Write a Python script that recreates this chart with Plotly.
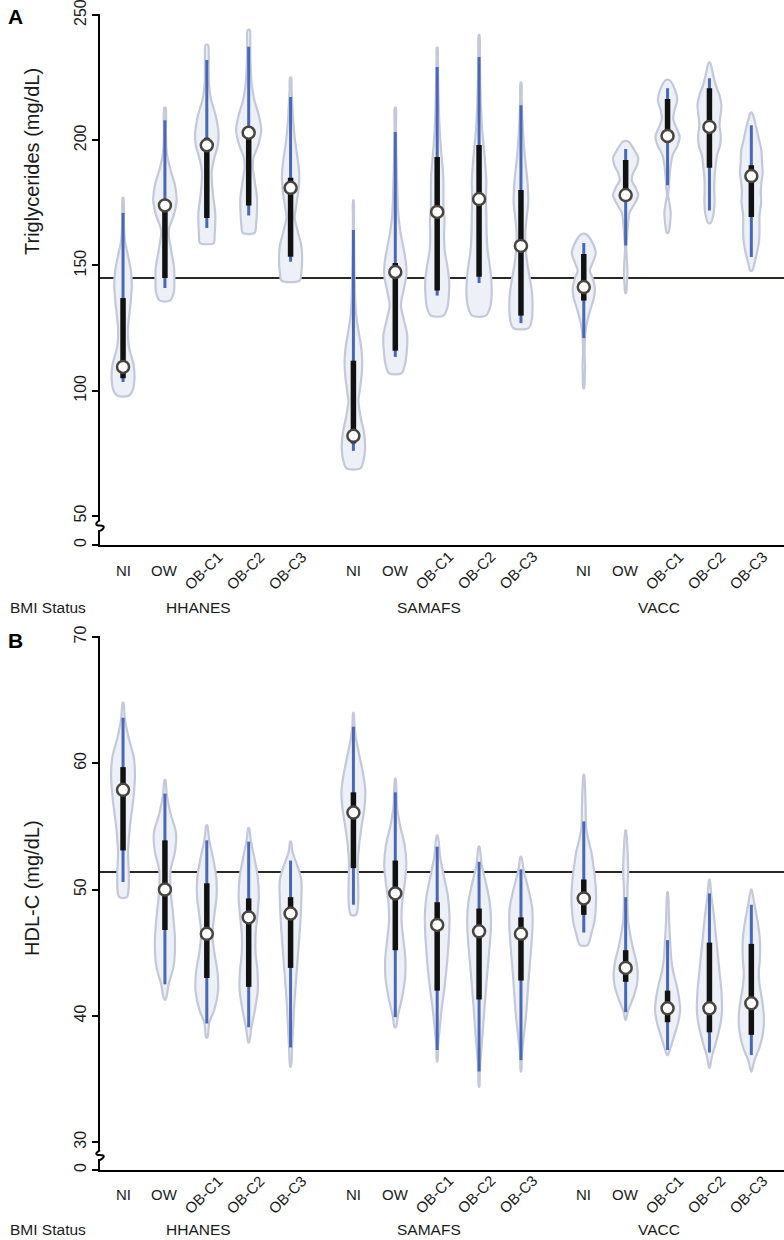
import plotly.graph_objects as go

# ---------------- data ----------------
groups = ["HHANES", "SAMAFS", "VACC"]
bmi_status = ["NI", "OW", "OB-C1", "OB-C2", "OB-C3"]

# Panel A: Triglycerides (mg/dL)
tg_whisk_lo = [103.5, 141, 165, 170, 151.5, 76, 113.5, 138, 143, 127, 121, 158, 182, 172, 153.4]
tg_q1 = [105, 145, 169, 174, 153.5, 79, 116, 140, 145.5, 130, 136, 176, 199, 189, 169.4]
tg_median = [109.5, 174, 198, 203, 181, 82, 147.4, 171.4, 176.5, 157.8, 141.4, 178.1, 201.7, 205.3, 185.7]
tg_q3 = [137, 176, 201, 205, 185, 112, 151, 193.3, 198.1, 180.1, 154.6, 192.1, 216.5, 220.8, 190]
tg_whisk_hi = [171, 208, 232, 237.3, 217.3, 164.2, 203.3, 229.2, 233.2, 214, 159, 196.5, 220.8, 224.8, 206]
tg_reference = 145

# violin density profiles (value levels, relative density)
tg_levels = [
    [98, 100, 104, 110, 118, 125, 135, 142, 148, 155, 160, 168, 177],
    [136, 139, 144, 149, 156, 164, 170, 176, 182, 188, 195, 203, 213],
    [159, 162, 167, 171, 178, 184, 188, 193, 198, 203, 210, 216, 222, 228, 234, 238],
    [163, 166, 171, 177, 183, 189, 193, 198, 204, 210, 216, 222, 230, 238, 244],
    [144, 147, 152, 158, 164, 169, 174, 181, 187, 193, 200, 207, 214, 220, 225],
    [69, 72, 77, 83, 89, 96, 100, 106, 112, 118, 124, 130, 140, 150, 160, 168, 176],
    [107, 110, 115, 122, 128, 134, 140, 146, 151, 157, 163, 170, 178, 188, 198, 206, 213],
    [130, 133, 138, 144, 150, 156, 162, 168, 174, 180, 186, 192, 198, 206, 215, 225, 232, 237],
    [130, 133, 138, 144, 150, 156, 163, 170, 177, 184, 190, 197, 204, 212, 222, 232, 242],
    [125, 128, 133, 139, 145, 151, 157, 163, 169, 175, 181, 187, 194, 202, 210, 217, 223],
    [101, 106, 110, 115, 120, 126, 132, 137, 141, 145, 148, 151, 155, 159, 162.5],
    [139, 143, 147, 152, 157, 162, 167, 171, 175, 178, 181, 184, 187, 190, 193, 196, 199.5],
    [163, 167, 171, 175, 178, 181, 185, 190, 194, 198, 201.5, 205, 208.5, 212, 216, 220, 224],
    [167, 170, 175, 180, 185, 190, 194, 198, 202, 206, 210, 214, 218, 222, 226, 231],
    [148, 151, 155, 160, 165, 170, 175, 179, 183, 187, 191, 196, 200, 204, 208, 211],
]
tg_density = [
    [0.45, 0.75, 0.9, 0.85, 0.45, 0.4, 0.6, 0.7, 0.62, 0.35, 0.15, 0.06, 0.03],
    [0.4, 0.7, 0.75, 0.73, 0.5, 0.3, 0.7, 0.93, 0.8, 0.45, 0.15, 0.08, 0.05],
    [0.55, 0.62, 0.67, 0.67, 0.5, 0.4, 0.4, 0.6, 0.88, 0.93, 0.7, 0.35, 0.18, 0.15, 0.15, 0.1],
    [0.47, 0.58, 0.65, 0.66, 0.5, 0.33, 0.38, 0.75, 1.0, 0.8, 0.45, 0.25, 0.15, 0.12, 0.08],
    [0.72, 0.85, 0.92, 0.85, 0.55, 0.33, 0.45, 0.65, 0.68, 0.55, 0.35, 0.22, 0.14, 0.08, 0.04],
    [0.55, 0.8, 0.93, 0.85, 0.6, 0.4, 0.5, 0.65, 0.7, 0.6, 0.4, 0.22, 0.12, 0.08, 0.05, 0.04, 0.02],
    [0.5, 0.75, 0.9, 0.95, 0.7, 0.45, 0.65, 0.88, 0.85, 0.65, 0.42, 0.25, 0.18, 0.12, 0.07, 0.05, 0.04],
    [0.5, 0.8, 0.93, 0.95, 0.8, 0.6, 0.55, 0.58, 0.5, 0.5, 0.48, 0.38, 0.28, 0.18, 0.12, 0.08, 0.05, 0.03],
    [0.55, 0.85, 1.0, 0.98, 0.85, 0.68, 0.6, 0.58, 0.55, 0.58, 0.5, 0.38, 0.25, 0.16, 0.1, 0.06, 0.03],
    [0.6, 0.85, 0.92, 0.88, 0.7, 0.5, 0.38, 0.35, 0.45, 0.58, 0.55, 0.45, 0.3, 0.18, 0.1, 0.06, 0.03],
    [0.03, 0.08, 0.1, 0.06, 0.08, 0.2, 0.5, 0.8, 0.88, 0.7, 0.48, 0.7, 0.95, 0.7, 0.2],
    [0.03, 0.1, 0.14, 0.1, 0.05, 0.12, 0.2, 0.3, 0.75, 1.0, 0.8, 0.48, 0.6, 0.9, 1.0, 0.7, 0.2],
    [0.05, 0.2, 0.25, 0.15, 0.05, 0.1, 0.15, 0.25, 0.4, 0.8, 0.96, 0.7, 0.45, 0.55, 0.77, 0.6, 0.15],
    [0.1, 0.3, 0.4, 0.38, 0.4, 0.5, 0.6, 0.85, 0.9, 0.8, 0.88, 0.95, 0.8, 0.5, 0.3, 0.05],
    [0.08, 0.25, 0.45, 0.62, 0.65, 0.65, 0.78, 0.75, 0.8, 0.9, 0.85, 0.8, 0.62, 0.45, 0.25, 0.05],
]

# Panel B: HDL-C (mg/dL)
hdl_whisk_lo = [50.6, 42.5, 39.4, 39.1, 37.5, 48.8, 39.9, 37.3, 35.6, 36.5, 46.6, 40.3, 37.3, 37.1, 36.9]
hdl_q1 = [53.1, 46.8, 43.0, 42.3, 43.8, 51.7, 45.2, 42.0, 41.3, 42.8, 48.0, 42.7, 39.5, 38.7, 38.5]
hdl_median = [57.9, 50.0, 46.5, 47.8, 48.1, 56.1, 49.7, 47.2, 46.7, 46.5, 49.3, 43.8, 40.6, 40.6, 41.0]
hdl_q3 = [59.7, 53.9, 50.5, 49.3, 49.4, 57.7, 52.3, 49.0, 48.5, 47.8, 50.8, 45.2, 42.0, 45.8, 45.7]
hdl_whisk_hi = [63.6, 57.6, 53.9, 53.8, 52.3, 62.9, 57.7, 53.4, 52.2, 51.6, 55.4, 49.4, 46.0, 49.7, 48.8]
hdl_reference = 51.4

hdl_levels = [
    [49.4, 50.2, 51.5, 53, 55, 57, 59, 60.5, 62, 63.5, 64.8],
    [41.3, 42.5, 44, 46, 48, 50, 51.5, 53, 54.5, 56, 57.5, 58.7],
    [38.3, 39.5, 40.5, 42, 43.5, 45, 46.5, 48, 49.5, 51, 52.5, 54, 55.1],
    [37.9, 39, 40.5, 42, 43.5, 45, 46.5, 48, 49.5, 51, 52.5, 54, 54.9],
    [36, 37.5, 39, 41, 43, 45, 47, 49, 50.8, 52, 53, 53.8],
    [48, 49, 50.5, 52, 53.5, 55, 56.5, 57.8, 59, 60.5, 62, 63, 64],
    [39.1, 40, 41.5, 43, 44.5, 46, 47.5, 49, 50.5, 52, 53.5, 55, 56.5, 58.8],
    [36.4, 37.5, 39, 40.5, 42, 43.5, 45, 46.5, 48, 49.5, 51, 52.5, 54.3],
    [34.4, 35.5, 37, 38.5, 40, 41.5, 43, 44.5, 46, 47.5, 49, 50.5, 52, 53.4],
    [35.6, 36.8, 38, 39.5, 41, 42.5, 44, 45.5, 47, 48.5, 50, 51.5, 52.6],
    [45.6, 46.5, 47.5, 48.5, 49.5, 50.8, 52, 53, 54, 55, 56.5, 58, 59.1],
    [39.7, 40.3, 41.3, 42.5, 43.5, 44.5, 45.5, 46.5, 47.5, 48.5, 50, 51.5, 53, 54.7],
    [36.9, 37.5, 38.5, 39.5, 40.5, 41.5, 42.5, 43.5, 44.5, 46, 47.5, 49.8],
    [35.9, 36.8, 38, 39.5, 40.5, 42, 43.5, 45, 46.5, 48, 49.5, 50.8],
    [35.6, 36.5, 37.5, 38.8, 40, 41.3, 42.5, 43.5, 44.5, 46, 47.5, 48.8, 50],
]
hdl_density = [
    [0.3, 0.45, 0.45, 0.4, 0.55, 0.8, 0.95, 0.85, 0.45, 0.15, 0.03],
    [0.05, 0.3, 0.7, 0.8, 0.65, 0.45, 0.45, 0.8, 0.88, 0.45, 0.15, 0.03],
    [0.05, 0.2, 0.6, 0.9, 0.85, 0.6, 0.45, 0.6, 0.78, 0.75, 0.5, 0.18, 0.03],
    [0.03, 0.2, 0.5, 0.72, 0.7, 0.55, 0.55, 0.7, 0.8, 0.72, 0.45, 0.15, 0.03],
    [0.03, 0.12, 0.2, 0.3, 0.45, 0.6, 0.75, 0.85, 0.85, 0.5, 0.15, 0.03],
    [0.2, 0.38, 0.38, 0.35, 0.45, 0.65, 0.88, 0.95, 0.8, 0.5, 0.2, 0.08, 0.02],
    [0.05, 0.2, 0.55, 0.78, 0.8, 0.65, 0.5, 0.55, 0.75, 0.88, 0.75, 0.4, 0.15, 0.02],
    [0.02, 0.06, 0.2, 0.35, 0.55, 0.72, 0.85, 0.95, 0.98, 0.85, 0.55, 0.25, 0.03],
    [0.02, 0.06, 0.15, 0.28, 0.38, 0.5, 0.62, 0.75, 0.88, 0.95, 0.85, 0.55, 0.2, 0.03],
    [0.02, 0.06, 0.18, 0.35, 0.48, 0.58, 0.7, 0.82, 0.92, 0.9, 0.6, 0.22, 0.03],
    [0.3, 0.6, 0.85, 0.95, 0.98, 0.9, 0.75, 0.6, 0.35, 0.18, 0.15, 0.1, 0.02],
    [0.03, 0.15, 0.55, 0.9, 0.95, 0.8, 0.55, 0.35, 0.2, 0.15, 0.14, 0.2, 0.15, 0.02],
    [0.03, 0.25, 0.55, 0.85, 1.0, 0.9, 0.7, 0.45, 0.3, 0.2, 0.12, 0.02],
    [0.02, 0.2, 0.55, 0.9, 1.0, 0.95, 0.8, 0.65, 0.5, 0.35, 0.15, 0.02],
    [0.02, 0.25, 0.65, 0.95, 1.0, 0.85, 0.65, 0.6, 0.68, 0.68, 0.5, 0.25, 0.02],
]

# ---------------- layout helpers ----------------
# The page body margin is removed (post_script below) so that figure pixels
# equal window pixels.
W, H = 784, 1240
LEFT = 100            # column of the y axes = figure left margin
FONT = "Liberation Sans, Arial, sans-serif"
X_RANGE = [-0.55, 15.78]
HALF = 0.30  # max half-width of a violin in category units

positions = [g * 5.5 + i for g in range(len(groups)) for i in range(len(bmi_status))]
labels = [b for _ in groups for b in bmi_status]


def pyp(px):  # pixel row -> paper y
    return 1 - px / H


def pxp(px):  # pixel column -> paper x
    return (px - LEFT) / (W - LEFT)


VIOLIN_FILL = "#edf0f6"
VIOLIN_LINE = "#c3c9da"
WHISK = "#4a67b6"
IQR = "#111111"
TEXT = "#1a1a1a"

fig = go.Figure()


def add_panel(xa, ya, ya_low, ref, levels, density, wlo, q1, med, q3, whi):
    # empty trace so the lower (zero) axis segment subplot exists
    fig.add_trace(go.Scatter(x=[None], y=[None], mode="markers", xaxis=xa, yaxis=ya_low,
                             hoverinfo="skip", showlegend=False))
    fig.add_trace(go.Scatter(x=X_RANGE, y=[ref, ref], mode="lines",
                             line=dict(color="#2b2724", width=2),
                             xaxis=xa, yaxis=ya, hoverinfo="skip", showlegend=False))
    for p, lv, d in zip(positions, levels, density):
        xs = [p + HALF * v for v in d] + [p - HALF * v for v in reversed(d)]
        ys = list(lv) + list(reversed(lv))
        xs.append(xs[0])
        ys.append(ys[0])
        fig.add_trace(go.Scatter(x=xs, y=ys, mode="lines", fill="toself",
                                 fillcolor=VIOLIN_FILL,
                                 line=dict(color=VIOLIN_LINE, width=2.2, shape="spline", smoothing=0.9),
                                 xaxis=xa, yaxis=ya, hoverinfo="skip", showlegend=False))
    wx, wy, bx, by = [], [], [], []
    for p, a, b, c, d in zip(positions, wlo, whi, q1, q3):
        wx += [p, p, None]
        wy += [a, b, None]
        bx += [p, p, None]
        by += [c, d, None]
    fig.add_trace(go.Scatter(x=wx, y=wy, mode="lines", line=dict(color=WHISK, width=3),
                             xaxis=xa, yaxis=ya, hoverinfo="skip", showlegend=False))
    fig.add_trace(go.Scatter(x=bx, y=by, mode="lines", line=dict(color=IQR, width=5.5),
                             xaxis=xa, yaxis=ya, hoverinfo="skip", showlegend=False))
    fig.add_trace(go.Scatter(x=positions, y=med, mode="markers",
                             marker=dict(symbol="circle", size=12, color="white",
                                         line=dict(color="#4a443f", width=2.5)),
                             xaxis=xa, yaxis=ya, showlegend=False))


add_panel("x", "y", "y2", tg_reference, tg_levels, tg_density,
          tg_whisk_lo, tg_q1, tg_median, tg_q3, tg_whisk_hi)
add_panel("x2", "y3", "y4", hdl_reference, hdl_levels, hdl_density,
          hdl_whisk_lo, hdl_q1, hdl_median, hdl_q3, hdl_whisk_hi)

# pixel geometry of the two panels
A_SCALE = 2.505            # px per mg/dL
A_250 = 15                 # row of the 250 tick
A_TOPVAL, A_LOVAL = 250.2, 48
A_TOP = A_250 - (A_TOPVAL - 250) * A_SCALE
A_BOT = A_250 + (250 - A_LOVAL) * A_SCALE
A_ZERO = 545
B_SCALE = 12.63
B_70 = 637
B_TOPVAL, B_LOVAL = 70.05, 29.3
B_TOP = B_70 - (B_TOPVAL - 70) * B_SCALE
B_BOT = B_70 + (70 - B_LOVAL) * B_SCALE
B_ZERO = 1170

axis_common = dict(showline=True, linecolor="black", linewidth=2, showgrid=False,
                   zeroline=False, ticks="outside", ticklen=6, tickwidth=2,
                   tickcolor="black", tickangle=-90, ticklabeloverflow="allow",
                   tickfont=dict(family=FONT, size=16, color=TEXT))
x_common = dict(domain=[0, 1], range=X_RANGE, showline=True, linecolor="black",
                linewidth=2, showgrid=False, zeroline=False, showticklabels=False,
                ticks="")

fig.update_layout(
    width=W, height=H,
    margin=dict(l=LEFT, r=0, t=0, b=0, autoexpand=False),
    paper_bgcolor="white", plot_bgcolor="white",
    showlegend=False,
    font=dict(family=FONT, size=15, color=TEXT),
    xaxis=dict(anchor="y2", **x_common),
    yaxis=dict(anchor="x", domain=[pyp(A_BOT), pyp(A_TOP)], range=[A_LOVAL, A_TOPVAL],
               tickvals=[50, 100, 150, 200, 250], **axis_common),
    yaxis2=dict(anchor="x", domain=[pyp(A_ZERO), pyp(A_BOT + 9)], range=[0, 10],
                tickvals=[0], **axis_common),
    xaxis2=dict(anchor="y4", **x_common),
    yaxis3=dict(anchor="x2", domain=[pyp(B_BOT), pyp(B_TOP)], range=[B_LOVAL, B_TOPVAL],
                tickvals=[30, 40, 50, 60, 70], **axis_common),
    yaxis4=dict(anchor="x2", domain=[pyp(B_ZERO), pyp(B_BOT + 8)], range=[0, 10],
                tickvals=[0], **axis_common),
)

# axis-break squiggles
shapes = []
for top, bot in [(A_BOT - 1, A_BOT + 10), (B_BOT - 1, B_BOT + 9)]:
    mid = (top + bot) / 2
    path = (f"M {pxp(100)},{pyp(top)} C {pxp(95)},{pyp(top + 3)} {pxp(95)},{pyp(mid)} {pxp(100)},{pyp(mid)} "
            f"C {pxp(105)},{pyp(mid)} {pxp(105)},{pyp(bot - 3)} {pxp(100)},{pyp(bot)}")
    shapes.append(dict(type="path", path=path, xref="paper", yref="paper",
                       line=dict(color="black", width=2)))
fig.update_layout(shapes=shapes)

# category / group / panel annotations
ann = []
for xa, ylab, ygrp in [("x", 570, 607), ("x2", 1194, 1229)]:
    for p, lab in zip(positions, labels):
        rot = lab.startswith("OB")
        ann.append(dict(x=p - (0.08 if rot else 0), y=pyp(ylab), xref=xa, yref="paper",
                        text=lab, showarrow=False, textangle=-45 if rot else 0,
                        xanchor="center", yanchor="middle",
                        font=dict(family=FONT, size=15, color=TEXT)))
    for g, name in enumerate(groups):
        ann.append(dict(x=positions[g * 5 + 2] - 0.2, y=pyp(ygrp), xref=xa, yref="paper",
                        text=name, showarrow=False, xanchor="center", yanchor="middle",
                        font=dict(family=FONT, size=15.5, color=TEXT)))
    ann.append(dict(x=pxp(8), y=pyp(ygrp), xref="paper", yref="paper", text="BMI Status",
                    showarrow=False, xanchor="left", yanchor="middle",
                    font=dict(family=FONT, size=15.5, color=TEXT)))

ann.append(dict(x=pxp(32), y=pyp(162), xref="paper", yref="paper", text="Triglycerides (mg/dL)",
                showarrow=False, textangle=-90, xanchor="center", yanchor="middle",
                font=dict(family=FONT, size=20, color=TEXT)))
ann.append(dict(x=pxp(32), y=pyp(888), xref="paper", yref="paper", text="HDL-C (mg/dL)",
                showarrow=False, textangle=-90, xanchor="center", yanchor="middle",
                font=dict(family=FONT, size=20, color=TEXT)))
for letter, ypix in [("A", 17), ("B", 640)]:
    ann.append(dict(x=pxp(15), y=pyp(ypix), xref="paper", yref="paper", text=f"<b>{letter}</b>",
                    showarrow=False, xanchor="center", yanchor="middle",
                    font=dict(family=FONT, size=21, color="black")))
fig.update_layout(annotations=ann)

fig.write_html("out.html", config={"displayModeBar": False},
               post_script="document.body.style.margin='0px';document.body.style.padding='0px';")
